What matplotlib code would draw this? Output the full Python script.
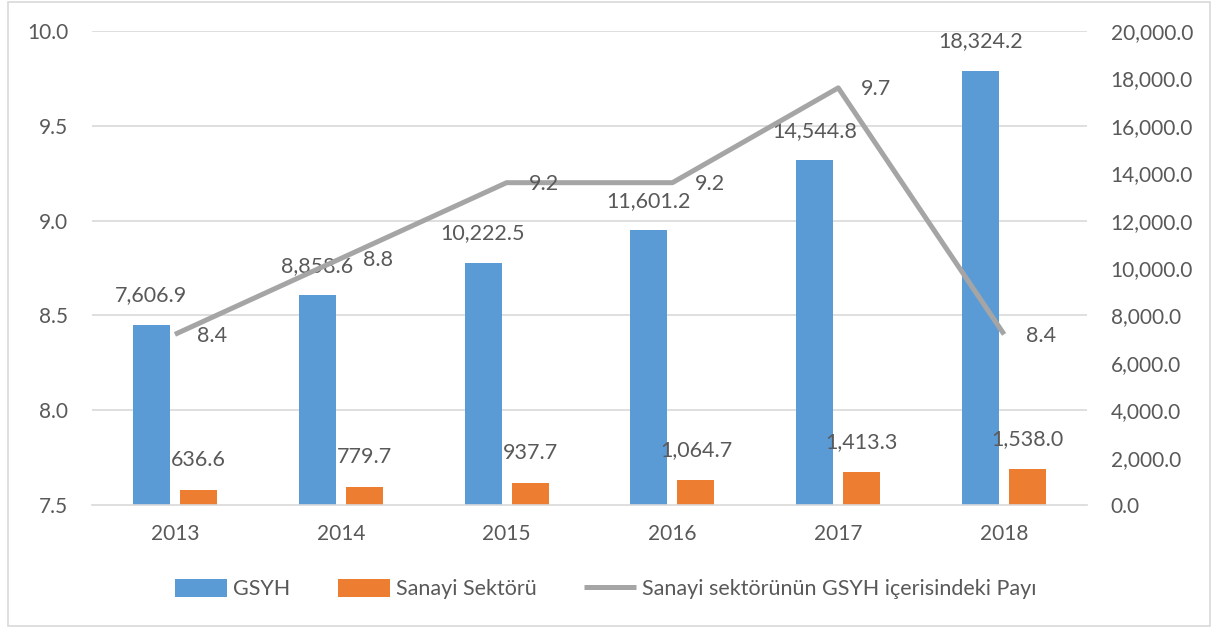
import numpy as np
import matplotlib
matplotlib.use("Agg")
from matplotlib import pyplot as plt
from matplotlib.patches import Rectangle
from matplotlib.ticker import FuncFormatter

years = ['2013', '2014', '2015', '2016', '2017', '2018']
gsyh = [7606.9, 8858.6, 10222.5, 11601.2, 14544.8, 18324.2]
sanayi = [636.6, 779.7, 937.7, 1064.7, 1413.3, 1538.0]
pay = [8.4, 8.8, 9.2, 9.2, 9.7, 8.4]

mavi = '#5B9BD5'
turuncu = '#ED7D31'
gri = '#A5A5A5'
yazi = '#595959'

plt.rcParams['font.family'] = ['Lato', 'DejaVu Sans']
plt.rcParams['font.size'] = 15

fig = plt.figure(figsize=(12.12, 6.27), dpi=100)
ax = fig.add_axes([92 / 1212, 1 - 505 / 627, (1087 - 92) / 1212, (505 - 31) / 627])
ax2 = ax.twinx()

x = np.arange(len(years))
w = 0.223
off = 0.142

# cubuklar sag eksende
b1 = ax2.bar(x - off, gsyh, w, color=mavi, label='GSYH', zorder=2)
b2 = ax2.bar(x + off, sanayi, w, color=turuncu, label='Sanayi Sektörü', zorder=2)
ax2.set_ylim(0, 20000)
ax2.set_yticks(np.arange(0, 20001, 2000))
ax2.yaxis.set_major_formatter(FuncFormatter(lambda v, p: f'{v:,.1f}'))

for xi, v in zip(x - off, gsyh):
    ax2.annotate(f'{v:,.1f}', (xi, v), xytext=(0, 14), textcoords='offset points',
                 ha='center', va='bottom', color=yazi, fontsize=15.5)
for xi, v in zip(x + off, sanayi):
    ax2.annotate(f'{v:,.1f}', (xi, v), xytext=(0, 14), textcoords='offset points',
                 ha='center', va='bottom', color=yazi, fontsize=15.5)

# cizgi sol eksende, cubuklarin ustunde
ax.set_zorder(ax2.get_zorder() + 1)
ax.patch.set_visible(False)
ln, = ax.plot(x, pay, color=gri, lw=3.6, solid_capstyle='butt',
              label='Sanayi sektörünün GSYH içerisindeki Payı', zorder=3)
for xi, v in zip(x, pay):
    ax.annotate(f'{v:.1f}', (xi, v), xytext=(16, -1), textcoords='offset points',
                ha='left', va='center', color=yazi, fontsize=15.5)
ax.set_ylim(7.5, 10.0)
ax.set_yticks(np.arange(7.5, 10.01, 0.5))
ax.yaxis.set_major_formatter(FuncFormatter(lambda v, p: f'{v:.1f}'))
ax.set_xlim(-0.5, len(years) - 0.5)
ax.set_xticks(x)
ax.set_xticklabels(years)

# izgara
for yv in np.arange(8.0, 10.01, 0.5):
    ax2.axhline(np.interp(yv, [7.5, 10.0], [0, 20000]), color='#D9D9D9', lw=1.2, zorder=0)

for a in (ax, ax2):
    for s in a.spines.values():
        s.set_visible(False)
    a.tick_params(length=0, colors=yazi, labelsize=15)
ax.spines['bottom'].set_visible(True)
ax.spines['bottom'].set_color('#D9D9D9')
ax.spines['bottom'].set_linewidth(1.2)
ax.tick_params(axis='y', pad=17)
ax2.tick_params(axis='y', pad=17)
ax.tick_params(axis='x', pad=14)

leg = fig.legend([b1, b2, ln], [b1.get_label(), b2.get_label(), ln.get_label()],
                 loc='center', bbox_to_anchor=(0.5, 1 - 589 / 627), ncol=3, frameon=False,
                 handlelength=2.4, handleheight=0.9, handletextpad=0.3, columnspacing=2.2,
                 fontsize=15.5)
for t in leg.get_texts():
    t.set_color(yazi)

fig.patches.append(Rectangle((8 / 1212, 1 / 627), 1202 / 1212, 624 / 627,
                             transform=fig.transFigure, fill=False,
                             edgecolor='#D9D9D9', lw=1.2))

fig.savefig('out.png', dpi=100)
